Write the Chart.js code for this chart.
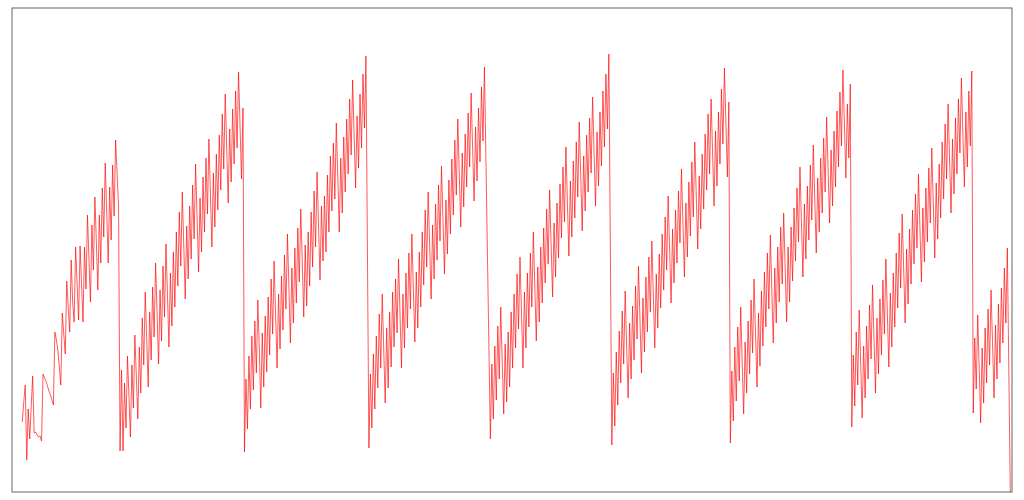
<!DOCTYPE html>
<html><head><meta charset="utf-8">
<script src="https://cdn.jsdelivr.net/npm/chart.js@4"></script>
<style>html,body{margin:0;padding:0;background:#fff;}</style>
</head><body>
<canvas id="c" width="1024" height="500"></canvas>
<script>
// Sampled values, one small array per sawtooth cycle (units: arbitrary level)
const cycle1 = [70, 90, 107, 32, 83, 53, 85, 116, 59, 60, 57, 55, 56, 51, 118, 114, 111, 106, 101, 97,
  92, 87, 160, 152, 142, 125, 107, 179, 158, 138, 211, 185, 160, 232, 190, 170, 245, 208, 172, 246,
  208, 170, 245, 203, 277, 233, 190, 267, 222, 295, 250, 202, 277, 229, 304, 255, 329, 280, 229, 305,
  252, 327, 276, 352, 318, 285];
const cycle2 = [41, 122, 41, 109, 64, 136, 96, 55, 127, 84, 157, 115, 73, 145, 99, 174, 127, 200, 152, 105,
  180, 132, 205, 155, 229, 179, 128, 202, 151, 226, 175, 248, 197, 145, 219, 166, 240, 185, 260, 206,
  280, 226, 300, 247, 193, 266, 213, 286, 233, 307, 253, 328, 274, 220, 294, 240, 315, 260, 334, 278,
  353, 299, 245, 319, 265, 338, 282, 357, 302, 378, 323, 398, 344, 289, 363, 310, 383, 328, 401, 344,
  420, 366, 313, 384];
const cycle3 = [40, 113, 63, 136, 83, 156, 102, 171, 119, 192, 143,
  84, 159, 105, 176, 120, 195, 137, 213, 158, 231, 178,
  124, 198, 143, 216, 162, 237, 183, 258, 204,
  149, 224, 169, 244, 189, 264, 210, 283, 229,
  175, 247, 186, 260, 206, 280, 225, 301, 245, 320, 266,
  212, 286, 231, 296, 240, 317, 260, 336, 281, 349, 293, 369, 314,
  260, 334, 279, 355, 300, 373, 318, 393, 337, 412, 358,
  304, 376, 324, 398, 344, 418, 364, 436, 240];
const cycle4 = [44, 118, 64, 138, 83, 156, 104, 178, 124, 198, 143,
  89, 164, 104, 180, 125, 200, 145, 213, 159, 233, 178,
  124, 198, 144, 219, 164, 239, 183, 258, 204,
  150, 220, 164, 240, 185, 260, 207, 282, 225, 300, 246,
  193, 267, 213, 288, 232, 307, 251, 326, 272,
  218, 292, 238, 312, 258, 333, 277, 352, 297, 373, 318,
  265, 339, 285, 358, 305, 379, 325, 399, 345,
  291, 365, 311, 384, 330, 405, 351, 425,
  332, 239, 146];
const cycle5 = [53, 128, 73, 146, 92, 166, 113, 185, 131,
  78, 148, 90, 160, 105, 180, 124, 198, 144, 218, 163, 235, 180,
  124, 200, 144, 219, 165, 239, 185, 260, 205,
  151, 225, 170, 245, 189, 264, 209, 283, 228, 302, 248,
  195, 269, 215, 289, 234, 308, 254, 325, 270, 345, 290,
  236, 311, 255, 331, 274, 350, 295, 370, 316,
  261, 336, 281, 357, 300, 374, 319, 395, 340,
  286, 360, 306, 380, 326, 401, 345, 418, 363, 438, 243];
const cycle6 = [47, 119, 66, 140, 87, 161, 109, 181, 128, 201, 146,
  94, 169, 113, 186, 132, 206, 153, 226, 172,
  119, 194, 140, 215, 160, 235, 180, 251, 198,
  144, 218, 164, 238, 184, 258, 202, 275, 222, 296, 243,
  189, 263, 209, 282, 229, 301, 249, 323, 269,
  215, 289, 235, 310, 256, 330, 275, 350, 296,
  243, 316, 263, 338, 283, 358, 302, 378, 318, 393, 340,
  286, 361, 306, 380, 328, 403, 348, 424, 370,
  315, 390];
const cycle7 = [49, 121, 71, 145, 91, 165, 111, 185, 129,
  78, 150, 99, 171, 118, 192, 139, 213, 159,
  105, 179, 126, 201, 146, 220, 165, 239, 183, 257, 201,
  149, 224, 169, 245, 190, 265, 208, 279, 225,
  170, 245, 190, 265, 211, 284, 231, 304, 250, 325, 270,
  215, 288, 233, 306, 252, 327, 272, 347, 293,
  239, 314, 260, 334, 279, 354, 300, 375, 322,
  269, 342, 286, 361, 305, 381, 325, 400, 346, 422, 368,
  314, 388, 334, 408];
const cycle8 = [65, 137, 86, 160, 107, 182, 128,
  74, 146, 94, 166, 113, 187, 133, 207, 153,
  99, 174, 118, 193, 137, 212, 158, 233, 179,
  125, 199, 145, 219, 165, 239, 184, 259, 204, 278, 224,
  169, 243, 188, 263, 208, 282, 228, 298, 244, 318, 264,
  210, 284, 230, 304, 250, 324, 269, 344, 289,
  234, 309, 253, 328, 274, 350, 293, 368, 313, 388, 333,
  279, 353, 298, 374, 318, 393, 339, 414, 358,
  305, 380, 325, 401, 346, 421];
const cycle9 = [79, 154, 103, 177, 124, 69, 144, 89, 164, 109, 183, 127, 202, 150,
  94, 167, 113, 188, 129, 204, 149, 224, 169, 244, 122, 0];

const values = [].concat(cycle1, cycle2, cycle3, cycle4, cycle5, cycle6, cycle7, cycle8, cycle9);
const samples = values.map((_, i) => i);

const framePlugin = {
  id: 'frame',
  afterDraw(chart) {
    const { ctx, chartArea: a } = chart;
    ctx.save();
    ctx.strokeStyle = '#666';
    ctx.lineWidth = 1;
    ctx.strokeRect(a.left, a.top, a.right - a.left, a.bottom - a.top);
    ctx.restore();
  }
};

new Chart(document.getElementById('c'), {
  type: 'line',
  data: {
    datasets: [{
      data: samples.map((s, i) => ({ x: s, y: values[i] })),
      borderColor: 'rgba(255,0,0,0.65)',
      borderWidth: 1,
      pointRadius: 0,
      tension: 0,
      fill: false
    }]
  },
  options: {
    responsive: false,
    animation: false,
    layout: { padding: { left: 12, right: 12, top: 8, bottom: 8 } },
    plugins: { legend: { display: false }, tooltip: { enabled: false } },
    scales: {
      x: { type: 'linear', display: false, min: -6.95, max: samples.length + 0.15 },
      y: { display: false, min: 0, max: 484 }
    }
  },
  plugins: [framePlugin]
});
</script>
</body></html>
